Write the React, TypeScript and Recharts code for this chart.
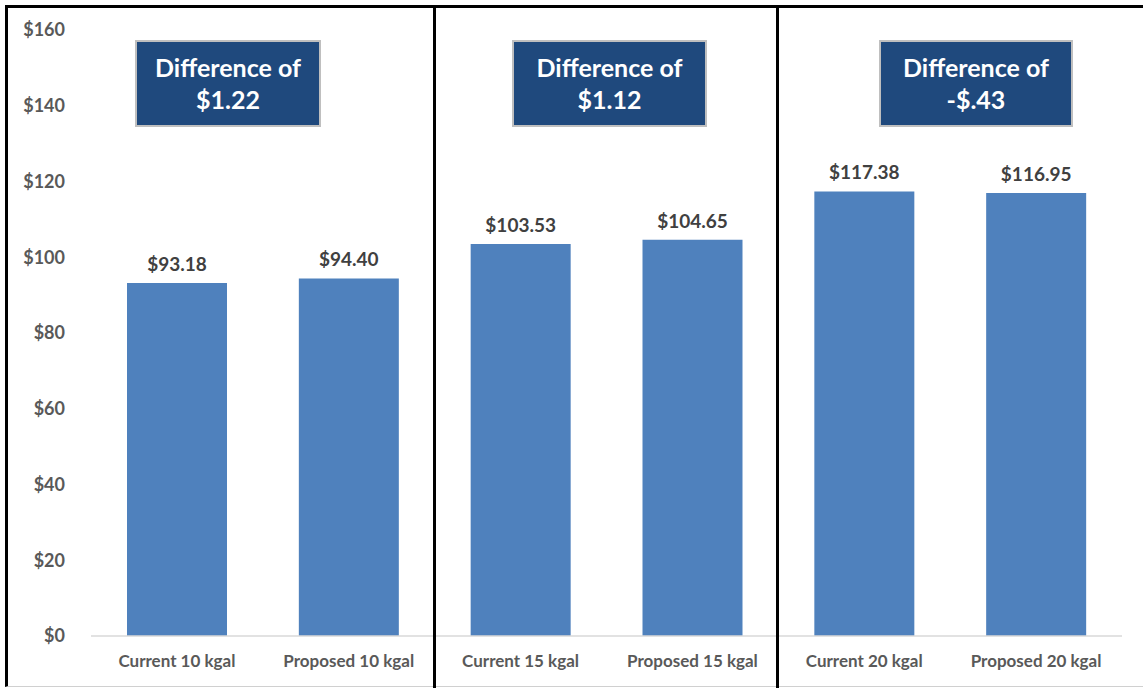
import React from "react";
import { BarChart, Bar, XAxis, YAxis, LabelList } from "recharts";

const categories = [
  "Current 10 kgal",
  "Proposed 10 kgal",
  "Current 15 kgal",
  "Proposed 15 kgal",
  "Current 20 kgal",
  "Proposed 20 kgal",
];
const values = [93.18, 94.4, 103.53, 104.65, 117.38, 116.95];
const yTicks = [0, 20, 40, 60, 80, 100, 120, 140, 160];
const differenceLabels = ["$1.22", "$1.12", "-$.43"];

const data = categories.map((name, i) => ({ name, value: values[i] }));

const FONT = "Lato, 'Noto Sans', sans-serif";

// annotation boxes, one per group (pixel placement)
const boxes = [
  { left: 135, width: 186 },
  { left: 512, width: 195 },
  { left: 879, width: 194 },
];

export default function App() {
  return (
    <div
      style={{
        position: "absolute",
        left: 0,
        top: 0,
        width: 1143,
        height: 688,
        background: "#fff",
        fontFamily: FONT,
        overflow: "hidden",
      }}
    >
      <BarChart
        width={1143}
        height={688}
        data={data}
        margin={{ top: 30, right: 21, left: 0, bottom: 22 }}
        barCategoryGap={0}
      >
        <XAxis
          dataKey="name"
          height={30}
          axisLine={{ stroke: "#D9D9D9", strokeWidth: 1.5 }}
          tickLine={false}
          tickSize={0}
          tickMargin={19}
          interval={0}
          tick={{ fill: "#595959", fontSize: 17, fontWeight: 700, fontFamily: FONT }}
        />
        <YAxis
          width={91}
          domain={[0, 160]}
          ticks={yTicks}
          axisLine={false}
          tickLine={false}
          tickSize={0}
          tickMargin={26}
          tickFormatter={(v) => `$${v}`}
          tick={{ fill: "#595959", fontSize: 18, fontWeight: 700, fontFamily: FONT }}
        />
        <Bar dataKey="value" fill="#4F81BD" barSize={100} isAnimationActive={false}>
          <LabelList
            dataKey="value"
            position="top"
            offset={12}
            formatter={(v: number) => `$${v.toFixed(2)}`}
            style={{ fill: "#404040", fontSize: 19, fontWeight: 700, fontFamily: FONT }}
          />
        </Bar>
      </BarChart>

      {/* frame */}
      <div
        style={{
          position: "absolute",
          left: 5,
          top: 5,
          width: 1140,
          height: 682,
          borderTop: "3px solid #000",
          borderLeft: "3px solid #000",
          borderBottom: "1px solid #D0D0D0",
          boxSizing: "border-box",
          pointerEvents: "none",
        }}
      />
      {[433, 776].map((x) => (
        <div
          key={x}
          style={{
            position: "absolute",
            left: x,
            top: 5,
            width: 3,
            height: 683,
            background: "#000",
          }}
        />
      ))}

      {boxes.map((b, i) => (
        <div
          key={i}
          style={{
            position: "absolute",
            left: b.left,
            top: 40,
            width: b.width,
            height: 87,
            background: "#1F497D",
            border: "2px solid #BFBFBF",
            boxSizing: "border-box",
            color: "#fff",
            fontWeight: 700,
            fontSize: 25,
            lineHeight: "32px",
            textAlign: "center",
            display: "flex",
            flexDirection: "column",
            justifyContent: "center",
            paddingBottom: 2,
          }}
        >
          <div>Difference of</div>
          <div>{differenceLabels[i]}</div>
        </div>
      ))}
    </div>
  );
}
